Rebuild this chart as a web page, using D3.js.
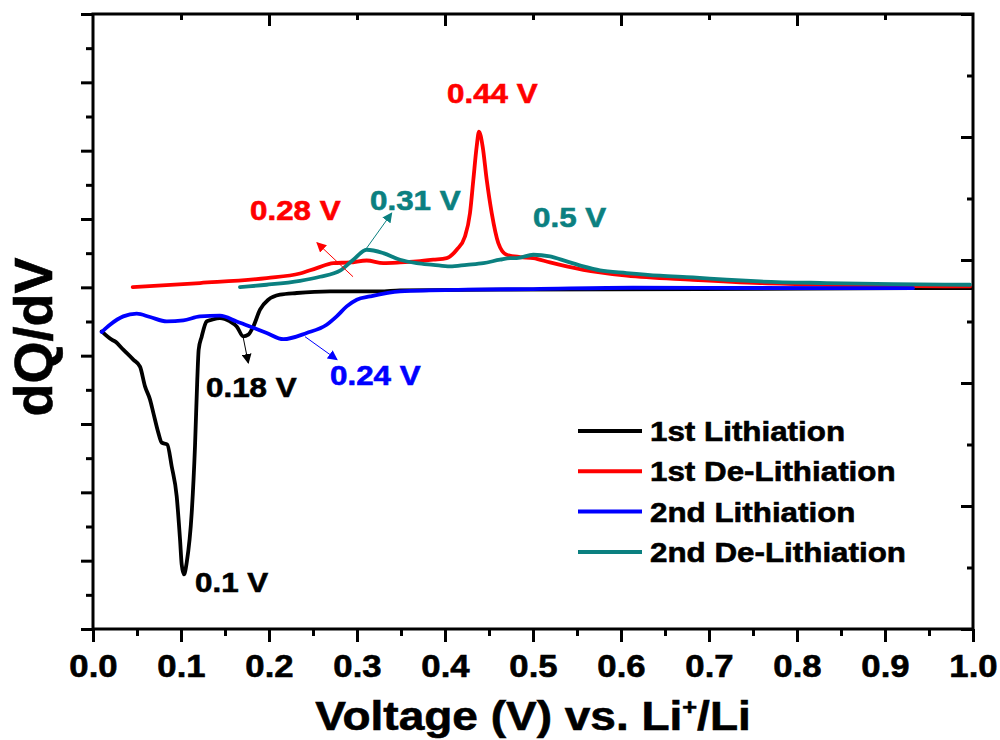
<!DOCTYPE html>
<html>
<head>
<meta charset="utf-8">
<script src="https://cdn.jsdelivr.net/npm/d3@7"></script>
<style>
  html, body { margin: 0; padding: 0; background: #ffffff; }
  svg { display: block; }
  text { font-family: "Liberation Sans", Arial, sans-serif; font-weight: bold; stroke-width: 0.6px; }
</style>
</head>
<body>
<svg id="chart" width="1000" height="740"></svg>
<script>
// ---- Differential capacity (dQ/dV) curves, voltage in V vs. Li+/Li ----
const lith1V = [0.0099, 0.0213, 0.0250, 0.0344, 0.0458, 0.0534, 0.0591, 0.0648, 0.0685, 0.0742, 0.0781, 0.0844, 0.0894, 0.0951, 0.0989, 0.1008, 0.1034, 0.1065, 0.1122, 0.1159, 0.1185, 0.1201, 0.1235, 0.1292, 0.1349, 0.1443, 0.1557, 0.1633, 0.1708, 0.1765, 0.1822, 0.1898, 0.1992, 0.2125, 0.2315, 0.2693, 0.3261, 0.3489, 0.4625, 0.6898, 0.9318, 0.9990];
const lith1Q = [-0.645, -0.766, -0.791, -0.912, -1.058, -1.161, -1.449, -1.643, -1.833, -2.126, -2.272, -2.301, -2.618, -3.057, -3.690, -4.056, -4.202, -4.026, -3.295, -2.330, -1.351, -0.912, -0.722, -0.499, -0.474, -0.449, -0.499, -0.572, -0.718, -0.693, -0.572, -0.327, -0.181, -0.108, -0.083, -0.060, -0.060, -0.045, -0.035, -0.025, -0.013, -0.010];

const delith1V = [0.0451, 0.1216, 0.1974, 0.2352, 0.2542, 0.2731, 0.2920, 0.3110, 0.3299, 0.3489, 0.3678, 0.3867, 0.4019, 0.4133, 0.4227, 0.4284, 0.4322, 0.4360, 0.4386, 0.4428, 0.4474, 0.4531, 0.4606, 0.4701, 0.4852, 0.5003, 0.5193, 0.5383, 0.5572, 0.5761, 0.6065, 0.6818, 0.7580, 0.8337, 0.9091, 0.9966];
const delith1Q = [0.004, 0.063, 0.136, 0.202, 0.282, 0.355, 0.364, 0.393, 0.355, 0.364, 0.379, 0.404, 0.428, 0.550, 0.744, 1.086, 1.573, 2.060, 2.279, 2.060, 1.573, 1.086, 0.648, 0.477, 0.443, 0.428, 0.364, 0.306, 0.257, 0.218, 0.170, 0.111, 0.063, 0.038, 0.023, 0.013];

const lith2V = [0.0099, 0.0193, 0.0344, 0.0497, 0.0648, 0.0838, 0.1027, 0.1216, 0.1443, 0.1633, 0.1784, 0.1974, 0.2163, 0.2428, 0.2655, 0.2769, 0.2883, 0.2997, 0.3148, 0.3489, 0.4247, 0.5000, 0.6136, 0.7580, 0.9318];
const lith2Q = [-0.654, -0.547, -0.425, -0.386, -0.434, -0.499, -0.484, -0.425, -0.415, -0.499, -0.572, -0.668, -0.759, -0.668, -0.547, -0.425, -0.279, -0.181, -0.133, -0.060, -0.035, -0.025, -0.006, -0.010, -0.013];

const delith2V = [0.1670, 0.1974, 0.2352, 0.2580, 0.2807, 0.2958, 0.3110, 0.3299, 0.3489, 0.3678, 0.3867, 0.4057, 0.4247, 0.4436, 0.4625, 0.4739, 0.4815, 0.5003, 0.5193, 0.5383, 0.5572, 0.5761, 0.6065, 0.6443, 0.6818, 0.7201, 0.7580, 0.8337, 0.9091, 0.9966];
const delith2Q = [0.004, 0.038, 0.096, 0.155, 0.243, 0.404, 0.550, 0.501, 0.404, 0.355, 0.330, 0.306, 0.330, 0.355, 0.404, 0.428, 0.428, 0.477, 0.452, 0.379, 0.306, 0.247, 0.209, 0.170, 0.145, 0.111, 0.086, 0.063, 0.048, 0.038];

const seriesNames = ["1st Lithiation", "1st De-Lithiation", "2nd Lithiation", "2nd De-Lithiation"];
const seriesColors = ["#000000", "#ff0000", "#0000ff", "#0b8080"];

// ---- Axis ticks ----
const xTicks = [0, 0.05, 0.1, 0.15, 0.2, 0.25, 0.3, 0.35, 0.4, 0.45, 0.5, 0.55, 0.6, 0.65, 0.7, 0.75, 0.8, 0.85, 0.9, 0.95, 1.0];
const xTickLabels = ["0.0", "", "0.1", "", "0.2", "", "0.3", "", "0.4", "", "0.5", "", "0.6", "", "0.7", "", "0.8", "", "0.9", "", "1.0"];
const topTicks = [0.1, 0.2, 0.3, 0.4, 0.5, 0.6, 0.7, 0.8, 0.9];
const topMajor = [0.2, 0.4, 0.6, 0.8];
const yTicks = [-5, -4.5, -4, -3.5, -3, -2.5, -2, -1.5, -1, -0.5, 0, 0.5, 1, 1.5, 2, 2.5, 3, 3.5, 4];
const rightTicks = [0, 1, 2, 3, 4, 5, 6, 7, 8, 9, 10];

// ---- Peak annotations: label text, label anchor, arrow from -> to ----
const peakLabels = ["0.44 V", "0.28 V", "0.31 V", "0.5 V", "0.18 V", "0.24 V", "0.1 V"];
const peakLabelColors = ["#ff0000", "#ff0000", "#0b8080", "#0b8080", "#000000", "#0000ff", "#000000"];
const peakLabelV = [0.4023, 0.1784, 0.3148, 0.5000, 0.1284, 0.2693, 0.1159];
const peakLabelQ = [2.699, 0.988, 1.135, 0.886, -1.600, -1.423, -4.465];
const arrowColors = ["#ff0000", "#0b8080", "#000000", "#0000ff"];
const arrowFromV = [0.2955, 0.3110, 0.1708, 0.2409];
const arrowFromQ = [0.155, 0.575, -0.741, -0.722];
const arrowToV = [0.2545, 0.3394, 0.1765, 0.2773];
const arrowToQ = [0.652, 1.086, -1.107, -1.058];

// ---- Layout ----
const plot = { left: 93, top: 14, right: 973, bottom: 629 };
const SX = 1.12;

const svg = d3.select("#chart");
const x = d3.scaleLinear().domain([0, 1]).range([plot.left, plot.right]);
const y = d3.scaleLinear().domain([-5, 4]).range([plot.bottom, plot.top]);
const yRight = d3.scaleLinear().domain([0, 10]).range([plot.bottom, plot.top]);

const near = (a, b) => Math.abs(a - b) < 1e-6;

// Bottom axis (outward ticks, labelled majors)
const gx = svg.append("g")
  .attr("transform", `translate(0,${plot.bottom})`)
  .call(d3.axisBottom(x).tickValues(xTicks).tickSizeOuter(0)
    .tickFormat((d, i) => xTickLabels[i]));
gx.selectAll(".tick line").attr("y2", (d, i) => xTickLabels[i] ? 13 : 7);
gx.selectAll(".tick text")
  .attr("y", 0).attr("dy", null)
  .attr("transform", "translate(0,48) scale(" + SX + ",1)")
  .style("font-size", "31px").attr("fill", "#000").attr("stroke", "#000");

// Top axis (inward ticks)
const gt = svg.append("g")
  .attr("transform", `translate(0,${plot.top})`)
  .call(d3.axisTop(x).tickValues(topTicks).tickSizeOuter(0).tickFormat(""));
gt.selectAll(".tick line").attr("y2", d => topMajor.some(m => near(m, d)) ? 12 : 6);

// Left axis (outward ticks, no labels)
const gy = svg.append("g")
  .attr("transform", `translate(${plot.left},0)`)
  .call(d3.axisLeft(y).tickValues(yTicks).tickSizeOuter(0).tickFormat(""));
gy.selectAll(".tick line").attr("x2", d => near(d, Math.round(d)) ? -12 : -7);

// Right axis (inward ticks)
const gr = svg.append("g")
  .attr("transform", `translate(${plot.right},0)`)
  .call(d3.axisRight(yRight).tickValues(rightTicks).tickSizeOuter(0).tickFormat(""));
gr.selectAll(".tick line").attr("x2", d => d % 2 === 0 ? -12 : -6);

svg.selectAll(".domain").remove();
svg.selectAll(".tick line").attr("stroke", "#000").attr("stroke-width", 3);

// Frame
svg.append("rect")
  .attr("x", plot.left).attr("y", plot.top)
  .attr("width", plot.right - plot.left).attr("height", plot.bottom - plot.top)
  .attr("fill", "none").attr("stroke", "#000").attr("stroke-width", 3);

// Curves
const series = [
  { v: lith1V, q: lith1Q },
  { v: delith1V, q: delith1Q },
  { v: lith2V, q: lith2Q },
  { v: delith2V, q: delith2Q }
];
const line = d3.line().x(d => x(d[0])).y(d => y(d[1])).curve(d3.curveMonotoneX);
series.forEach((s, i) => {
  svg.append("path")
    .datum(s.v.map((v, k) => [v, s.q[k]]))
    .attr("d", line)
    .attr("fill", "none")
    .attr("stroke", seriesColors[i])
    .attr("stroke-width", 3.8)
    .attr("stroke-linejoin", "round")
    .attr("stroke-linecap", "round");
});

// Arrow markers
const defs = svg.append("defs");
arrowColors.forEach((c, i) => {
  defs.append("marker")
    .attr("id", "arrow" + i)
    .attr("viewBox", "0 0 10 10")
    .attr("refX", 9).attr("refY", 5)
    .attr("markerWidth", 10).attr("markerHeight", 10)
    .attr("markerUnits", "userSpaceOnUse")
    .attr("orient", "auto")
    .append("path").attr("d", "M0,0 L10,5 L0,10 Z").attr("fill", c);
});
arrowColors.forEach((c, i) => {
  svg.append("line")
    .attr("x1", x(arrowFromV[i])).attr("y1", y(arrowFromQ[i]))
    .attr("x2", x(arrowToV[i])).attr("y2", y(arrowToQ[i]))
    .attr("stroke", c).attr("stroke-width", 1)
    .attr("marker-end", `url(#arrow${i})`);
});

// Peak labels
peakLabels.forEach((t, i) => {
  svg.append("g")
    .attr("transform", `translate(${x(peakLabelV[i])},${y(peakLabelQ[i])}) scale(${SX},1)`)
    .append("text")
    .attr("fill", peakLabelColors[i]).attr("stroke", peakLabelColors[i])
    .style("font-size", "28px")
    .text(t);
});

// Legend
const legendX = 578, legendY = 431, legendStep = 40.3;
seriesNames.forEach((name, i) => {
  const g = svg.append("g").attr("transform", `translate(${legendX},${legendY + i * legendStep})`);
  g.append("line").attr("x1", 0).attr("x2", 64).attr("y1", 0).attr("y2", 0)
    .attr("stroke", seriesColors[i]).attr("stroke-width", 4);
  g.append("g").attr("transform", `translate(72,10) scale(${SX},1)`)
    .append("text").style("font-size", "28px").attr("fill", "#000").attr("stroke", "#000").text(name);
});

// Axis titles
const xt = svg.append("g")
  .attr("transform", `translate(${(plot.left + plot.right) / 2},730) scale(1.15,1)`)
  .append("text").attr("text-anchor", "middle").style("font-size", "40px")
  .attr("fill", "#000").attr("stroke", "#000");
xt.append("tspan").text("Voltage (V) vs. Li");
xt.append("tspan").attr("dy", -15).style("font-size", "22px").text("+");
xt.append("tspan").attr("dy", 15).text("/Li");

svg.append("text")
  .attr("transform", "translate(52,337) rotate(-90)")
  .attr("text-anchor", "middle")
  .style("font-size", "54px").attr("fill", "#000").attr("stroke", "#000")
  .text("dQ/dV");
</script>
</body>
</html>
